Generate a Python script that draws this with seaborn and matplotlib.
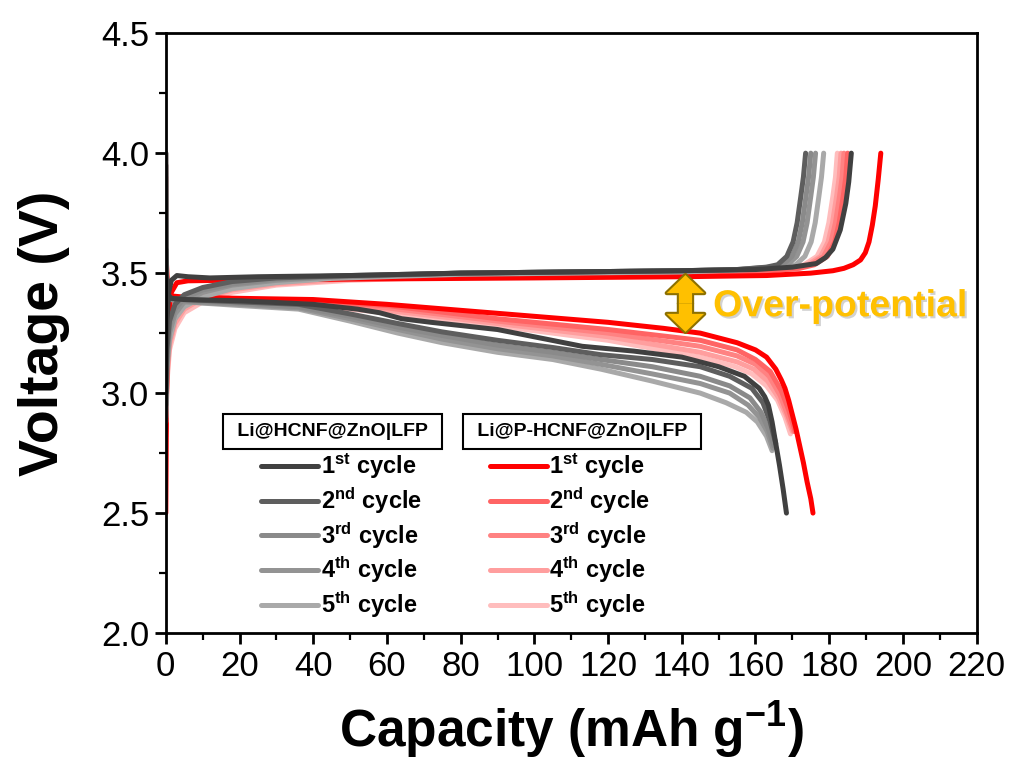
import matplotlib
matplotlib.use("Agg")
import matplotlib.pyplot as plt
import matplotlib.patheffects as pe
from matplotlib.lines import Line2D
from matplotlib.patches import FancyArrowPatch
from matplotlib.ticker import MultipleLocator, FormatStrFormatter
import seaborn as sns

# ---- data ----
cycle_labels = [r"1$^{\mathbf{st}}$ cycle", r"2$^{\mathbf{nd}}$ cycle", r"3$^{\mathbf{rd}}$ cycle",
                r"4$^{\mathbf{th}}$ cycle", r"5$^{\mathbf{th}}$ cycle"]
gray_colors = ["#404040", "#5e5e5e", "#8a8a8a", "#939393", "#a9a9a9"]
red_colors = ["#ff0000", "#ff6464", "#ff8282", "#ff9e9e", "#ffbdbd"]

# Li@HCNF@ZnO|LFP - charge
hcnf_chg_q = [
    [0, 0.3, 0.8, 1.5, 3, 6, 12, 25, 50, 80, 110, 140, 160, 170, 176.5, 179, 181, 183, 184.5, 185.3, 186],
    [0, 0.3, 1, 2.5, 5, 10, 18, 30, 50, 80, 110, 140, 155, 163, 166, 168.5, 170.2, 171.3, 172.3, 173, 173.6],
    [0, 0.3, 1, 2.5, 5, 10, 18, 30, 45, 80, 110, 140, 155, 164, 167.4, 169.9, 171.6, 172.7, 173.7, 174.4, 175],
    [0, 0.3, 1, 2.5, 5, 10, 18, 30, 45, 80, 110, 140, 156, 165, 168.7, 171.2, 172.9, 174, 175, 175.7, 176.3],
    [0, 0.3, 1, 2.5, 5, 10, 18, 30, 45, 80, 110, 140, 158, 167, 170.9, 173.4, 175.1, 176.2, 177.2, 177.9, 178.5],
]
hcnf_chg_v = [
    [3.00, 3.30, 3.42, 3.47, 3.49, 3.485, 3.48, 3.485, 3.49, 3.50, 3.505, 3.51, 3.515, 3.525, 3.54, 3.565, 3.60, 3.68, 3.79, 3.88, 4.00],
    [2.95, 3.18, 3.30, 3.37, 3.41, 3.44, 3.465, 3.48, 3.49, 3.50, 3.505, 3.51, 3.515, 3.525, 3.535, 3.57, 3.63, 3.71, 3.82, 3.90, 4.00],
    [2.93, 3.15, 3.28, 3.35, 3.395, 3.43, 3.455, 3.475, 3.485, 3.50, 3.505, 3.51, 3.515, 3.525, 3.535, 3.57, 3.63, 3.71, 3.82, 3.90, 4.00],
    [2.90, 3.12, 3.25, 3.33, 3.38, 3.42, 3.45, 3.47, 3.483, 3.50, 3.505, 3.51, 3.515, 3.525, 3.535, 3.57, 3.63, 3.71, 3.82, 3.90, 4.00],
    [2.88, 3.10, 3.22, 3.31, 3.36, 3.40, 3.435, 3.46, 3.478, 3.495, 3.50, 3.505, 3.515, 3.525, 3.535, 3.57, 3.63, 3.71, 3.82, 3.90, 4.00],
]

# Li@HCNF@ZnO|LFP - discharge
hcnf_dis_q = [
    [0, 0.15, 0.5, 1.5, 5, 20, 40, 52, 58, 64, 72, 90, 113, 127, 140, 150, 157, 161, 162.5, 163.5, 164.5, 165.5, 166.5, 167.5, 168.4],
    [0, 0.15, 0.5, 1.5, 5, 20, 36, 50, 63, 75, 90, 105, 118, 132, 145, 153, 159, 162, 164, 165.5],
    [0, 0.15, 0.5, 1.5, 5, 20, 36, 50, 63, 75, 90, 105, 118, 132, 145, 153, 158.5, 161.5, 163.5, 165],
    [0, 0.15, 0.5, 1.5, 5, 20, 36, 50, 63, 75, 90, 105, 118, 132, 145, 153, 158, 161, 163.2, 164.7],
    [0, 0.15, 0.5, 1.5, 5, 20, 36, 50, 63, 75, 90, 105, 118, 132, 145, 152, 157.5, 160.5, 163, 164.5],
]
hcnf_dis_v = [
    [3.60, 3.48, 3.41, 3.395, 3.39, 3.385, 3.37, 3.35, 3.335, 3.31, 3.295, 3.265, 3.195, 3.175, 3.15, 3.11, 3.07, 3.02, 2.985, 2.95, 2.88, 2.79, 2.70, 2.60, 2.50],
    [3.95, 3.50, 3.41, 3.395, 3.39, 3.38, 3.37, 3.33, 3.29, 3.255, 3.22, 3.19, 3.16, 3.14, 3.11, 3.07, 3.02, 2.96, 2.88, 2.79],
    [4.00, 3.50, 3.41, 3.39, 3.385, 3.375, 3.36, 3.32, 3.275, 3.24, 3.20, 3.17, 3.14, 3.11, 3.07, 3.03, 2.98, 2.92, 2.85, 2.78],
    [4.00, 3.50, 3.41, 3.39, 3.38, 3.37, 3.355, 3.31, 3.265, 3.225, 3.185, 3.155, 3.12, 3.08, 3.04, 3.00, 2.95, 2.90, 2.84, 2.77],
    [4.00, 3.50, 3.41, 3.39, 3.38, 3.365, 3.35, 3.30, 3.25, 3.21, 3.17, 3.14, 3.10, 3.05, 3.00, 2.96, 2.92, 2.88, 2.82, 2.76],
]

# Li@P-HCNF@ZnO|LFP - charge
phcnf_chg_q = [
    [0, 0.2, 0.6, 1.5, 3, 6, 15, 50, 100, 140, 163, 175, 181, 184, 186.5, 188.5, 189.8, 190.8, 191.7, 192.5, 193.3, 194],
    [0, 0.3, 1, 2.5, 5, 10, 18, 30, 50, 80, 110, 140, 160, 172, 176, 179.5, 181.5, 182.7, 183.8, 184.5, 185],
    [0, 0.3, 1, 2.5, 5, 10, 18, 30, 50, 80, 110, 140, 160, 171, 175, 178.5, 180.5, 181.7, 182.8, 183.5, 184],
    [0, 0.3, 1, 2.5, 5, 10, 18, 30, 50, 80, 110, 140, 159, 170, 174.2, 177.7, 179.7, 180.9, 182, 182.7, 183.2],
    [0, 0.3, 1, 2.5, 5, 10, 18, 30, 50, 80, 110, 140, 158, 169, 173.2, 176.7, 178.7, 179.9, 181, 181.7, 182.2],
]
phcnf_chg_v = [
    [2.50, 3.00, 3.30, 3.42, 3.46, 3.468, 3.47, 3.475, 3.48, 3.485, 3.49, 3.50, 3.51, 3.52, 3.535, 3.555, 3.585, 3.63, 3.70, 3.78, 3.89, 4.00],
    [2.85, 3.10, 3.25, 3.33, 3.38, 3.42, 3.45, 3.47, 3.485, 3.49, 3.495, 3.50, 3.505, 3.52, 3.535, 3.57, 3.63, 3.71, 3.82, 3.90, 4.00],
    [2.84, 3.08, 3.22, 3.31, 3.365, 3.41, 3.44, 3.465, 3.48, 3.49, 3.495, 3.50, 3.505, 3.52, 3.535, 3.57, 3.63, 3.71, 3.82, 3.90, 4.00],
    [2.83, 3.06, 3.20, 3.29, 3.35, 3.395, 3.43, 3.455, 3.475, 3.488, 3.495, 3.50, 3.505, 3.52, 3.535, 3.57, 3.63, 3.71, 3.82, 3.90, 4.00],
    [2.82, 3.04, 3.18, 3.27, 3.335, 3.38, 3.42, 3.45, 3.47, 3.485, 3.495, 3.50, 3.505, 3.52, 3.535, 3.57, 3.63, 3.71, 3.82, 3.90, 4.00],
]

# Li@P-HCNF@ZnO|LFP - discharge
phcnf_dis_q = [
    [0, 0.15, 0.5, 1.5, 5, 20, 40, 60, 80, 100, 120, 135, 145, 155, 160, 163, 165.5, 167, 168, 169, 170, 171, 172, 173, 174, 175, 175.6],
    [0, 0.15, 0.5, 1.5, 5, 20, 36, 60, 90, 120, 145, 155, 160, 164, 167, 169, 170.8],
    [0, 0.15, 0.5, 1.5, 5, 20, 36, 60, 90, 120, 145, 155, 160, 163.7, 166.7, 168.7, 170.4],
    [0, 0.15, 0.5, 1.5, 5, 20, 36, 60, 90, 120, 145, 155, 159.5, 163.3, 166.3, 168.3, 170],
    [0, 0.15, 0.5, 1.5, 5, 20, 36, 60, 90, 120, 145, 154.5, 159, 163, 166, 168, 169.5],
]
phcnf_dis_v = [
    [3.90, 3.55, 3.43, 3.405, 3.40, 3.395, 3.39, 3.37, 3.345, 3.32, 3.295, 3.27, 3.25, 3.21, 3.18, 3.15, 3.10, 3.055, 3.02, 2.97, 2.91, 2.85, 2.78, 2.71, 2.63, 2.56, 2.50],
    [3.90, 3.50, 3.42, 3.40, 3.395, 3.39, 3.385, 3.365, 3.31, 3.265, 3.22, 3.18, 3.14, 3.09, 3.01, 2.93, 2.84],
    [3.95, 3.50, 3.42, 3.40, 3.39, 3.385, 3.38, 3.355, 3.30, 3.25, 3.195, 3.155, 3.12, 3.07, 2.99, 2.91, 2.84],
    [3.95, 3.50, 3.41, 3.40, 3.39, 3.385, 3.375, 3.345, 3.29, 3.235, 3.17, 3.13, 3.10, 3.05, 2.98, 2.91, 2.84],
    [4.00, 3.50, 3.41, 3.395, 3.385, 3.38, 3.37, 3.335, 3.28, 3.22, 3.15, 3.11, 3.08, 3.03, 2.97, 2.90, 2.83],
]

# ---- style ----
sns.set_theme(style="ticks")
plt.rcParams["font.family"] = ["Liberation Sans", "DejaVu Sans"]
plt.rcParams["mathtext.fontset"] = "custom"
plt.rcParams["mathtext.rm"] = "Liberation Sans"
plt.rcParams["mathtext.bf"] = "Liberation Sans:bold"
plt.rcParams["mathtext.it"] = "Liberation Sans:italic"
for key in ["text.color", "axes.labelcolor", "xtick.color", "ytick.color", "axes.edgecolor"]:
    plt.rcParams[key] = "black"
narrow = ["Liberation Sans Narrow", "Liberation Sans"]

fig = plt.figure(figsize=(10.11, 7.72), dpi=100)
ax = fig.add_axes([0.164, 0.18, 0.802, 0.777])

lw = 3.6
# red first, gray on top; 1st cycles last
for i in [4, 3, 2, 1, 0]:
    for q, v in [(phcnf_chg_q[i], phcnf_chg_v[i]), (phcnf_dis_q[i], phcnf_dis_v[i])]:
        sns.lineplot(x=q, y=v, sort=False, estimator=None, color=red_colors[i], lw=lw, ax=ax,
                     solid_capstyle="round", solid_joinstyle="round")
for i in [4, 3, 2, 1, 0]:
    for q, v in [(hcnf_chg_q[i], hcnf_chg_v[i]), (hcnf_dis_q[i], hcnf_dis_v[i])]:
        sns.lineplot(x=q, y=v, sort=False, estimator=None, color=gray_colors[i], lw=lw, ax=ax,
                     solid_capstyle="round", solid_joinstyle="round")

ax.set_xlim(0, 220)
ax.set_ylim(2.0, 4.5)
ax.xaxis.set_major_locator(MultipleLocator(20))
ax.xaxis.set_minor_locator(MultipleLocator(10))
ax.yaxis.set_major_locator(MultipleLocator(0.5))
ax.yaxis.set_minor_locator(MultipleLocator(0.25))
ax.yaxis.set_major_formatter(FormatStrFormatter("%.1f"))
ax.tick_params(which="major", direction="out", length=8, width=2, color="black",
               labelcolor="black", pad=4, labelsize=25)
ax.tick_params(which="minor", direction="out", length=5, width=1.6, color="black")
for lab in ax.get_xticklabels():
    lab.set_fontfamily(narrow)
for s in ax.spines.values():
    s.set_linewidth(2)
    s.set_color("black")

ax.set_xlabel(r"Capacity (mAh g$^{\mathbf{-1}}$)", fontsize=37, fontweight="bold",
              fontfamily=narrow, labelpad=12)
ax.set_ylabel("Voltage (V)", fontsize=40, fontweight="bold", labelpad=22)

# legends
leg_font = {"weight": "bold", "size": 17}
h_gray = [Line2D([], [], color=c, lw=lw, solid_capstyle="round") for c in gray_colors]
h_red = [Line2D([], [], color=c, lw=lw, solid_capstyle="round") for c in red_colors]
leg1 = ax.legend(h_gray, cycle_labels, loc="upper left", bbox_to_anchor=(0.118, 0.302),
                 frameon=False, prop=leg_font, handlelength=2.4, handletextpad=0.1,
                 labelspacing=0.17, borderpad=0, borderaxespad=0)
ax.add_artist(leg1)
ax.legend(h_red, cycle_labels, loc="upper left", bbox_to_anchor=(0.40, 0.302),
          frameon=False, prop=leg_font, handlelength=2.4, handletextpad=0.1,
          labelspacing=0.17, borderpad=0, borderaxespad=0)

box = dict(boxstyle="square,pad=0.45", fc="white", ec="black", lw=1.5)
ax.text(0.2056, 0.336, " Li@HCNF@ZnO|LFP ", transform=ax.transAxes, fontsize=14,
        fontweight="bold", ha="center", va="center", bbox=box)
ax.text(0.5135, 0.336, " Li@P-HCNF@ZnO|LFP ", transform=ax.transAxes, fontsize=14,
        fontweight="bold", ha="center", va="center", bbox=box)

# over-potential arrow
arrow_x, arrow_top, arrow_bot = 141, 3.492, 3.255
mid = (arrow_top + arrow_bot) / 2
style = "simple,head_length=13,head_width=27,tail_width=9.5"
for end in [arrow_top, arrow_bot]:
    ax.add_patch(FancyArrowPatch((arrow_x, mid), (arrow_x, end), arrowstyle=style,
                                 mutation_scale=1, shrinkA=0, shrinkB=0,
                                 fc="#FFC000", ec="#8c7000", lw=3, zorder=6))
for end in [arrow_top, arrow_bot]:
    ax.add_patch(FancyArrowPatch((arrow_x, mid), (arrow_x, end), arrowstyle=style,
                                 mutation_scale=1, shrinkA=0, shrinkB=0,
                                 fc="#FFC000", ec="none", lw=0, zorder=7))
ax.text(148.5, 3.362, "Over-potential", fontsize=27, fontweight="bold", color="#FFC000",
        ha="left", va="center", zorder=7,
        path_effects=[pe.withSimplePatchShadow(offset=(1.5, -1.5), shadow_rgbFace="#808080", alpha=0.35)])

fig.savefig("out.png", dpi=100)
